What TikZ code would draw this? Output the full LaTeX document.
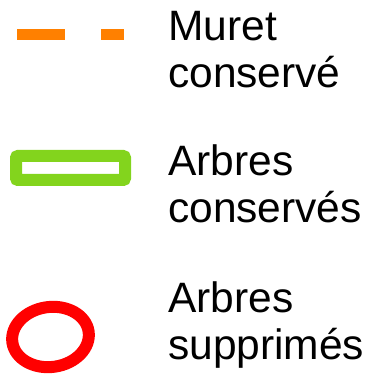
\documentclass[tikz,border=0pt]{standalone}
\usepackage{fontspec}
\setmainfont{Liberation Sans}
\definecolor{muretorange}{RGB}{255,128,0}
\definecolor{arbrevert}{RGB}{131,212,29}
\definecolor{arbrerouge}{RGB}{255,0,0}
\begin{document}
\begin{tikzpicture}[x=1pt, y=1pt,
    legende/.style={anchor=base west, inner sep=0pt, font=\fontsize{42.5}{47}\selectfont},
    muret/.style={draw=muretorange, line width=11pt, dash pattern=on 48pt off 36pt on 23pt off 40pt},
    garde/.style={draw=arbrevert, line width=12pt, rounded corners=2pt},
    coupe/.style={draw=arbrerouge, line width=12pt}]
    \useasboundingbox (0,0) rectangle (384,374);
    \draw [muret] (17,339.5) -- (124,339.5);
    \node [legende] at (168,333) (muret1) {Muret};
    \node [legende] at (168,286) (muret2) {conservé};
    \draw [garde] (16,194) rectangle (125,218);
    \node [legende] at (168,198) (garde1) {Arbres};
    \node [legende] at (168,151) (garde2) {conservés};
    \draw [coupe, rotate around={8:(50.5,37)}] (50.5,37) ellipse [x radius=38.5, y radius=30];
    \node [legende] at (168,61) (coupe1) {Arbres};
    \node [legende] at (168,14) (coupe2) {supprimés};
\end{tikzpicture}
\end{document}
